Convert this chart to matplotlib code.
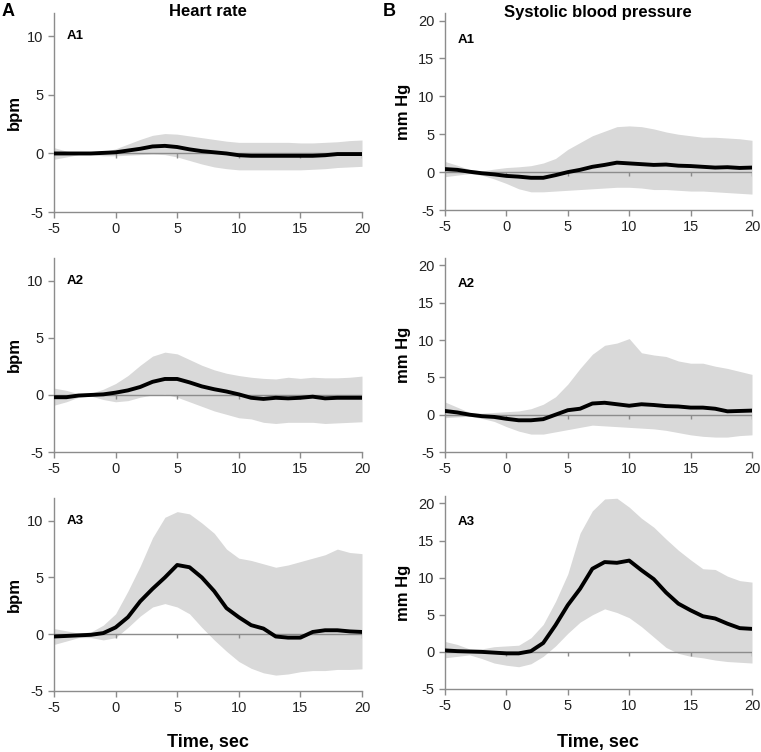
import numpy as np
import matplotlib
matplotlib.use('Agg')
from matplotlib import pyplot as plt

plt.rcParams['font.family'] = ['Liberation Sans Narrow', 'Liberation Sans', 'DejaVu Sans']
plt.rcParams['axes.unicode_minus'] = False

# time axis, seconds
t = np.arange(-5, 21)

# Heart rate (bpm): mean, upper and lower band
hr1_mean = [0, 0, 0, 0, 0.05, 0.1, 0.25, 0.4, 0.6, 0.65, 0.55, 0.35, 0.2, 0.1, 0, -0.15,
            -0.2, -0.2, -0.2, -0.2, -0.2, -0.2, -0.15, -0.05, -0.05, -0.05]
hr1_up = [0.5, 0.2, 0.05, 0.05, 0.15, 0.4, 0.8, 1.2, 1.55, 1.7, 1.65, 1.5, 1.35, 1.2, 1.05, 0.95,
          0.95, 0.95, 0.95, 0.95, 0.9, 0.9, 0.95, 1.0, 1.1, 1.15]
hr1_lo = [-0.5, -0.3, -0.1, -0.1, -0.2, -0.2, -0.15, -0.1, -0.05, -0.1, -0.3, -0.6, -0.9, -1.15, -1.3, -1.4,
          -1.4, -1.4, -1.4, -1.4, -1.4, -1.35, -1.3, -1.2, -1.15, -1.1]

hr2_mean = [-0.2, -0.2, -0.05, 0, 0.05, 0.2, 0.4, 0.7, 1.15, 1.4, 1.4, 1.1, 0.75, 0.5, 0.3, 0.05,
            -0.25, -0.35, -0.25, -0.3, -0.25, -0.15, -0.3, -0.25, -0.25, -0.25]
hr2_up = [0.6, 0.4, 0.1, 0.15, 0.5, 1.0, 1.7, 2.6, 3.4, 3.75, 3.6, 3.1, 2.6, 2.2, 1.9, 1.7,
          1.55, 1.45, 1.4, 1.55, 1.45, 1.55, 1.5, 1.5, 1.55, 1.65]
hr2_lo = [-0.9, -0.6, -0.2, -0.1, -0.4, -0.6, -0.5, -0.2, 0, 0.05, -0.2, -0.6, -1.0, -1.4, -1.7, -2.0,
          -2.1, -2.4, -2.5, -2.4, -2.4, -2.4, -2.5, -2.45, -2.4, -2.35]

hr3_mean = [-0.2, -0.15, -0.1, -0.05, 0.1, 0.6, 1.5, 2.9, 4.0, 5.0, 6.1, 5.9, 5.0, 3.8, 2.3, 1.5,
            0.8, 0.5, -0.2, -0.3, -0.3, 0.2, 0.35, 0.35, 0.25, 0.2]
hr3_up = [0.5, 0.3, 0.1, 0.2, 0.8, 1.8, 3.8, 6.0, 8.5, 10.3, 10.8, 10.6, 9.8, 8.9, 7.5, 6.7,
          6.5, 6.2, 5.9, 6.1, 6.4, 6.7, 7.0, 7.5, 7.2, 7.1]
hr3_lo = [-0.9, -0.6, -0.3, -0.3, -0.5, -0.3, 0.6, 1.6, 2.4, 2.7, 2.4, 1.8, 0.6, -0.5, -1.5, -2.4,
          -3.0, -3.4, -3.6, -3.5, -3.3, -3.2, -3.2, -3.1, -3.1, -3.05]

# Systolic blood pressure (mm Hg)
bp1_mean = [0.4, 0.3, 0.05, -0.15, -0.3, -0.5, -0.6, -0.75, -0.75, -0.4, 0, 0.3, 0.7, 0.95, 1.25, 1.15,
            1.05, 0.95, 1.0, 0.85, 0.8, 0.7, 0.6, 0.65, 0.55, 0.6]
bp1_up = [1.4, 0.9, 0.35, 0.15, 0.4, 0.6, 0.7, 0.85, 1.2, 1.8, 3.0, 3.9, 4.8, 5.4, 6.0, 6.1,
          6.0, 5.7, 5.3, 5.0, 4.8, 4.6, 4.6, 4.5, 4.4, 4.2]
bp1_lo = [-0.6, -0.4, -0.2, -0.4, -0.9, -1.5, -2.2, -2.6, -2.6, -2.5, -2.4, -2.3, -2.2, -2.1, -2.0, -2.0,
          -2.1, -2.3, -2.3, -2.4, -2.5, -2.5, -2.6, -2.7, -2.8, -2.9]

bp2_mean = [0.5, 0.3, 0, -0.2, -0.3, -0.55, -0.75, -0.75, -0.6, 0, 0.6, 0.8, 1.5, 1.6, 1.4, 1.2,
            1.4, 1.3, 1.15, 1.1, 0.95, 0.95, 0.8, 0.45, 0.5, 0.55]
bp2_up = [1.7, 1.0, 0.3, 0.2, 0.3, 0.4, 0.5, 0.8, 1.4, 2.4, 4.1, 6.2, 8.1, 9.3, 9.6, 10.2,
          8.3, 8.0, 7.8, 7.2, 6.9, 6.9, 6.5, 6.2, 5.8, 5.4]
bp2_lo = [-0.4, -0.3, -0.2, -0.5, -0.9, -1.6, -2.2, -2.6, -2.6, -2.3, -2.0, -1.7, -1.4, -1.5, -1.6, -1.7,
          -1.8, -1.9, -2.1, -2.4, -2.7, -2.9, -3.0, -3.0, -2.8, -2.7]

bp3_mean = [0.2, 0.1, 0.05, 0, -0.1, -0.2, -0.2, 0.1, 1.2, 3.6, 6.3, 8.5, 11.2, 12.1, 12.0, 12.3,
            11.0, 9.8, 8.0, 6.5, 5.6, 4.8, 4.5, 3.8, 3.2, 3.1]
bp3_up = [1.4, 1.0, 0.4, 0.4, 0.7, 0.8, 0.9, 1.9, 3.7, 6.8, 10.5, 16.0, 19.0, 20.6, 20.7, 19.5,
          18.0, 16.8, 15.2, 13.7, 12.4, 11.2, 11.1, 10.2, 9.6, 9.4]
bp3_lo = [-0.8, -0.6, -0.4, -0.9, -1.5, -1.8, -2.0, -1.6, -0.6, 0.8, 2.5, 4.0, 5.0, 5.8, 5.3, 4.6,
          3.4, 2.0, 0.6, -0.2, -0.6, -0.8, -1.1, -1.3, -1.4, -1.5]

panel_names = ['A1', 'A2', 'A3']
hr_data = [(hr1_mean, hr1_up, hr1_lo), (hr2_mean, hr2_up, hr2_lo), (hr3_mean, hr3_up, hr3_lo)]
bp_data = [(bp1_mean, bp1_up, bp1_lo), (bp2_mean, bp2_up, bp2_lo), (bp3_mean, bp3_up, bp3_lo)]

W, H = 761, 752
fig = plt.figure(figsize=(W/100, H/100), dpi=100)

def px_axes(x0, x1, ytop, ybot):
    return fig.add_axes([x0/W, 1 - ybot/H, (x1 - x0)/W, (ybot - ytop)/H])

grey = '#8c8c8c'
band = '#d9d9d9'

def style(ax, ylim, yticks, ylabel, name, name_y, lab_x, tick_len):
    ax.set_xlim(-5, 20)
    ax.set_ylim(*ylim)
    ax.set_xticks([-5, 0, 5, 10, 15, 20])
    ax.set_yticks(yticks)
    for s in ['top', 'right']:
        ax.spines[s].set_visible(False)
    for s in ['left', 'bottom']:
        ax.spines[s].set_color(grey)
        ax.spines[s].set_linewidth(1)
    ax.tick_params(colors=grey, labelcolor='#222222', labelsize=10.5, length=4, width=1)
    ax.axhline(0, color=grey, lw=1, zorder=1)
    ax.vlines([0, 5, 10, 15, 20], -tick_len, 0, color=grey, lw=1, zorder=1)
    ax.set_ylabel(ylabel, fontsize=12, fontweight='bold')
    ax.yaxis.set_label_coords(lab_x, 0.5)
    ax.text(-4.0, name_y, name, fontsize=9.5, fontweight='bold', va='center', ha='left')

rows = [(13, 212), (258, 452), (498, 691)]
rows_b = [(13, 210), (258, 452), (496, 689)]

for i in range(3):
    ax = px_axes(54, 362, *rows[i])
    m, up, lo = hr_data[i]
    ax.fill_between(t, lo, up, color=band, lw=0, zorder=0)
    ax.plot(t, m, color='black', lw=2.8, zorder=3)
    style(ax, (-5, 12), [-5, 0, 5, 10], 'bpm', panel_names[i], 10, -0.105, 0.35)

    ax = px_axes(445, 752, *rows_b[i])
    m, up, lo = bp_data[i]
    ax.fill_between(t, lo, up, color=band, lw=0, zorder=0)
    ax.plot(t, m, color='black', lw=2.8, zorder=3)
    style(ax, (-5, 21), [-5, 0, 5, 10, 15, 20], 'mm Hg', panel_names[i], 17.5, -0.112, 0.55)

fig.text(208/W, 1 - 12/H, 'Heart rate', fontsize=12, fontweight='bold', ha='center', va='center')
fig.text(598/W, 1 - 12/H, 'Systolic blood pressure', fontsize=12, fontweight='bold', ha='center', va='center')
fig.text(2/W, 1 - 12/H, 'A', fontsize=13, fontweight='bold', ha='left', va='center')
fig.text(383/W, 1 - 12/H, 'B', fontsize=13, fontweight='bold', ha='left', va='center')
fig.text(208/W, 1 - 742/H, 'Time, sec', fontsize=13, fontweight='bold', ha='center', va='center')
fig.text(598/W, 1 - 742/H, 'Time, sec', fontsize=13, fontweight='bold', ha='center', va='center')

fig.savefig('out.png', dpi=100)
